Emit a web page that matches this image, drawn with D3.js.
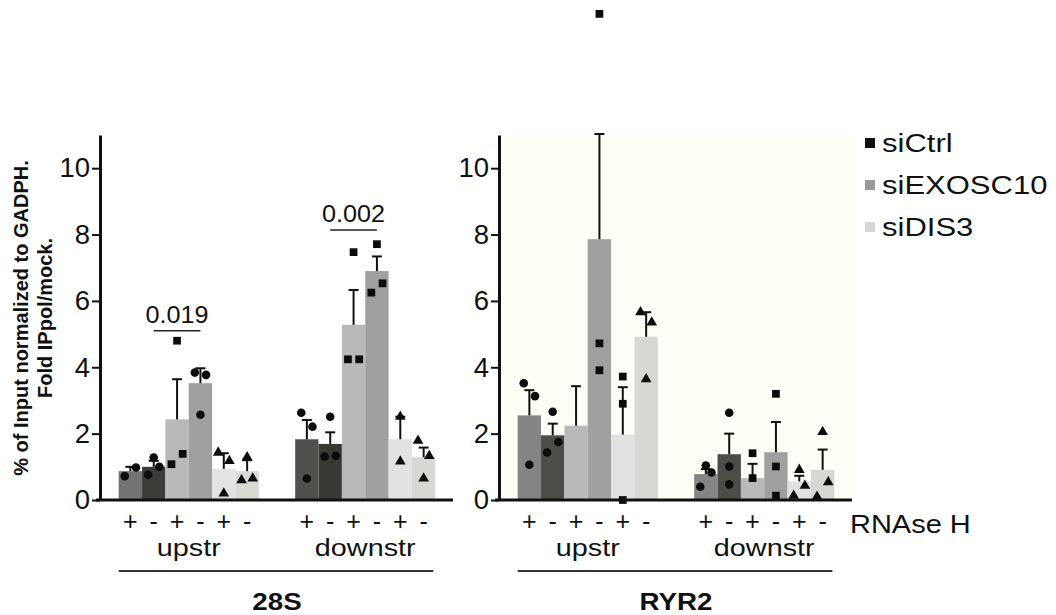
<!DOCTYPE html>
<html>
<head>
<meta charset="utf-8">
<script src="https://cdn.jsdelivr.net/npm/d3@7"></script>
<style>
body { margin: 0; background: #fff; }
svg text { font-family: "Liberation Sans", Arial, Helvetica, sans-serif; fill: #111; }
</style>
</head>
<body>
<svg id="chart"></svg>
<script>
// ---- data ----
let panels = ['28S', 'RYR2']
let regions = ['upstr', 'downstr']
let conditions = ['siCtrl', 'siCtrl', 'siEXOSC10', 'siEXOSC10', 'siDIS3', 'siDIS3']
let rnase = ['+', '-', '+', '-', '+', '-']
let legendNames = ['siCtrl', 'siEXOSC10', 'siDIS3']
let yTicks = [0, 2, 4, 6, 8, 10]

let mean28SUp = [0.87, 1.00, 2.43, 3.52, 0.94, 0.87]
let sem28SUp = [0.13, 0.18, 1.21, 0.45, 0.47, 0.33]
let mean28SDown = [1.83, 1.69, 5.28, 6.90, 1.83, 1.29]
let sem28SDown = [0.58, 0.35, 1.05, 0.44, 0.68, 0.29]
let meanRYR2Up = [2.55, 1.95, 2.24, 7.86, 1.97, 4.92]
let semRYR2Up = [0.76, 0.35, 1.19, 3.17, 1.43, 0.74]
let meanRYR2Down = [0.78, 1.38, 0.66, 1.44, 0.56, 0.91]
let semRYR2Down = [0.15, 0.62, 0.43, 0.91, 0.17, 0.61]

// replicate points: [value, jitter slot]
let pts28SUp = [
  [[0.72, -1], [0.98, 1]],
  [[1.28, 0], [0.76, -1], [1.00, 1]],
  [[4.80, 0], [1.08, -1], [1.39, 1]],
  [[3.84, -1], [3.77, 1], [2.57, 0]],
  [[1.43, -1], [1.18, 1], [0.20, 0]],
  [[1.29, 0], [0.60, -1], [0.65, 1]]
]
let pts28SDown = [
  [[2.63, -1], [2.21, 1], [0.65, 0]],
  [[2.51, 0], [1.31, -1], [1.33, 1]],
  [[7.47, 0], [4.24, -1], [4.24, 1]],
  [[7.71, 0], [6.25, -1], [6.53, 1]],
  [[2.51, 0], [1.16, 0]],
  [[1.79, -1], [1.33, 1], [0.65, 0]]
]
let ptsRYR2Up = [
  [[3.52, -1], [3.13, 1], [1.06, 0]],
  [[2.66, 0], [1.43, -1], [1.75, 1]],
  [],
  [[4.72, 0], [3.91, 0], [14.65, 0]],
  [[3.72, 0], [2.90, 0], [0.00, 0]],
  [[5.66, -1], [5.35, 1], [3.64, 0]]
]
let ptsRYR2Down = [
  [[1.04, 0], [0.83, 1], [0.40, -1]],
  [[2.63, 0], [1.01, 0], [0.47, 0]],
  [[1.41, 0], [0.66, 0]],
  [[3.20, 0], [1.01, 0], [0.13, 0]],
  [[0.91, 0], [0.43, 1], [0.13, -1]],
  [[2.05, 0], [0.54, 1], [0.10, -1]]
]

let shapes28SUp = ['circle', 'circle', 'square', 'circle', 'triangle', 'triangle']
let shapes28SDown = ['circle', 'circle', 'square', 'square', 'triangle', 'triangle']
let shapesRYR2Up = ['circle', 'circle', 'square', 'square', 'square', 'triangle']
let shapesRYR2Down = ['circle', 'circle', 'square', 'square', 'triangle', 'triangle']

let sigPanels = ['28S', '28S']
let sigRegions = ['upstr', 'downstr']
let sigValues = [5.1, 8.14]
let sigLabels = ['0.019', '0.002']

// ---- styles ----
let fills28SUp = ['#737373', '#3b3b37', '#b9b9b9', '#a0a0a0', '#e3e3e3', '#d9dad3']
let fills28SDown = ['#50504c', '#393934', '#b9b9b9', '#a0a0a0', '#e2e2e2', '#d7d8d2']
let fillsRYR2 = ['#858585', '#4c4d47', '#b9b9b9', '#a0a0a0', '#e2e2e2', '#d7d8d2']
let legendFills = ['#111111', '#9a9a9a', '#d6d6d2']

let width = 1056
let height = 615
let panelX = { '28S': 100, 'RYR2': 499 }
let panelW = 353

let svg = d3.select('#chart').attr('width', width).attr('height', height)

// build table
let table = []
let addRows = (panel, region, means, sems, pts, shapes, fills) => {
  means.forEach((m, i) => {
    table.push({ panel, region, i, mean: m, sem: sems[i], pts: pts[i], shape: shapes[i], fill: fills[i] })
  })
}
addRows('28S', 'upstr', mean28SUp, sem28SUp, pts28SUp, shapes28SUp, fills28SUp)
addRows('28S', 'downstr', mean28SDown, sem28SDown, pts28SDown, shapes28SDown, fills28SDown)
addRows('RYR2', 'upstr', meanRYR2Up, semRYR2Up, ptsRYR2Up, shapesRYR2Up, fillsRYR2)
addRows('RYR2', 'downstr', meanRYR2Down, semRYR2Down, ptsRYR2Down, shapesRYR2Down, fillsRYR2)

let yScale = d3.scaleLinear().domain([0, 11]).range([500, 135])

let xGroup = {}
panels.forEach(p => {
  xGroup[p] = d3.scaleBand()
    .domain(regions)
    .range([panelX[p] + 0.5, panelX[p] + panelW + 0.5])
    .paddingInner(0.206)
    .paddingOuter(0.103)
})
let xBar = d3.scaleBand().domain(d3.range(6)).range([0, xGroup['28S'].bandwidth()])
let barX = d => xGroup[d.panel](d.region) + xBar(d.i)
let barC = d => barX(d) + xBar.bandwidth() / 2

let addText = (g, str, x, y, size, sx, anchor, weight) => {
  return g.append('text')
    .attr('transform', 'translate(' + x + ',' + y + ') scale(' + sx + ',1)')
    .attr('font-size', size)
    .attr('text-anchor', anchor || 'start')
    .attr('font-weight', weight || 'normal')
    .text(str)
}

// faint background of the RYR2 plot
svg.append('rect')
  .attr('x', panelX['RYR2'] + 2)
  .attr('y', yScale(11))
  .attr('width', panelW - 1)
  .attr('height', yScale(0) - yScale(11))
  .attr('fill', '#fefef6')

// bars
svg.selectAll('rect.bar')
  .data(table)
  .enter()
  .append('rect')
  .attr('class', 'bar')
  .attr('x', barX)
  .attr('y', d => yScale(d.mean))
  .attr('width', xBar.bandwidth())
  .attr('height', d => yScale(0) - yScale(d.mean))
  .attr('fill', d => d.fill)

// error bars (upper only)
let eb = svg.selectAll('g.err').data(table).enter().append('g').attr('class', 'err')
  .attr('stroke', '#111').attr('stroke-width', 2)
eb.append('line')
  .attr('x1', barC).attr('x2', barC)
  .attr('y1', d => yScale(d.mean)).attr('y2', d => yScale(d.mean + d.sem))
eb.append('line')
  .attr('x1', d => barC(d) - 5).attr('x2', d => barC(d) + 5)
  .attr('y1', d => yScale(d.mean + d.sem)).attr('y2', d => yScale(d.mean + d.sem))

// replicate points
let symbolType = { circle: d3.symbolCircle, square: d3.symbolSquare, triangle: d3.symbolTriangle }
let symbolSize = { circle: 58, square: 60, triangle: 50 }
let points = []
table.forEach(d => {
  d.pts.forEach(p => points.push({ bar: d, value: p[0], slot: p[1] }))
})
svg.selectAll('path.pt')
  .data(points)
  .enter()
  .append('path')
  .attr('class', 'pt')
  .attr('d', p => d3.symbol().type(symbolType[p.bar.shape]).size(symbolSize[p.bar.shape])())
  .attr('transform', p => 'translate(' + (barC(p.bar) + p.slot * xBar.bandwidth() * 0.24) + ',' + yScale(p.value) + ')')
  .attr('fill', '#0c0c0c')

// axes
panels.forEach(p => {
  let yAxis = d3.axisLeft(yScale).tickValues(yTicks).tickSize(8).tickPadding(2).tickSizeOuter(0)
  let g = svg.append('g')
    .attr('transform', 'translate(' + panelX[p] + ',0)')
    .call(yAxis)
  g.select('.domain').attr('stroke', '#111').attr('stroke-width', 3)
  g.selectAll('.tick line').attr('stroke', '#111').attr('stroke-width', 2)
  g.selectAll('.tick text').attr('font-size', 27.5).attr('fill', '#111')
    .attr('font-family', '"Liberation Sans", Arial, sans-serif')

  svg.append('line')
    .attr('x1', panelX[p] - 4).attr('x2', panelX[p] + panelW)
    .attr('y1', yScale(0)).attr('y2', yScale(0))
    .attr('stroke', '#111').attr('stroke-width', 3)

  // RNAse H signs and region names
  regions.forEach(r => {
    rnase.forEach((s, i) => {
      addText(svg, s, barC({ panel: p, region: r, i: i }), 530, 25, 1, 'middle')
    })
    addText(svg, r, xGroup[p](r) + xGroup[p].bandwidth() / 2, 556, 24, 1.2, 'middle')
  })

  // panel underline and name
  let x0 = xGroup[p]('upstr')
  let x1 = xGroup[p]('downstr') + xGroup[p].bandwidth()
  svg.append('line')
    .attr('x1', x0).attr('x2', x1 - 2)
    .attr('y1', 571).attr('y2', 571)
    .attr('stroke', '#333').attr('stroke-width', 2)
  addText(svg, p, (x0 + x1) / 2, 610, 23.5, 1.18, 'middle', 'bold')
})

addText(svg, 'RNAse H', 850, 533, 25, 1.16, 'start')

// significance brackets
sigLabels.forEach((lab, k) => {
  let a = barC({ panel: sigPanels[k], region: sigRegions[k], i: 1 })
  let b = barC({ panel: sigPanels[k], region: sigRegions[k], i: 3 })
  let y = yScale(sigValues[k])
  svg.append('line').attr('x1', a).attr('x2', b).attr('y1', y).attr('y2', y)
    .attr('stroke', '#222').attr('stroke-width', 1.5)
  addText(svg, lab, (a + b) / 2, y - 8, 24, 1.05, 'middle')
})

// y axis title
let yt = svg.append('g').attr('transform', 'translate(0,318) rotate(-90)')
addText(yt, '% of Input normalized to GADPH.', 0, 28, 20, 1, 'middle', 'bold')
addText(yt, 'Fold IPpol/mock.', 0, 52, 20, 1, 'middle', 'bold')

// legend
legendNames.forEach((name, k) => {
  let y = 143 + k * 42
  svg.append('rect').attr('x', 865).attr('y', y - 5).attr('width', 10).attr('height', 10)
    .attr('fill', legendFills[k])
  addText(svg, name, 882, y + 8.5, 25, 1.24, 'start')
})
</script>
</body>
</html>
